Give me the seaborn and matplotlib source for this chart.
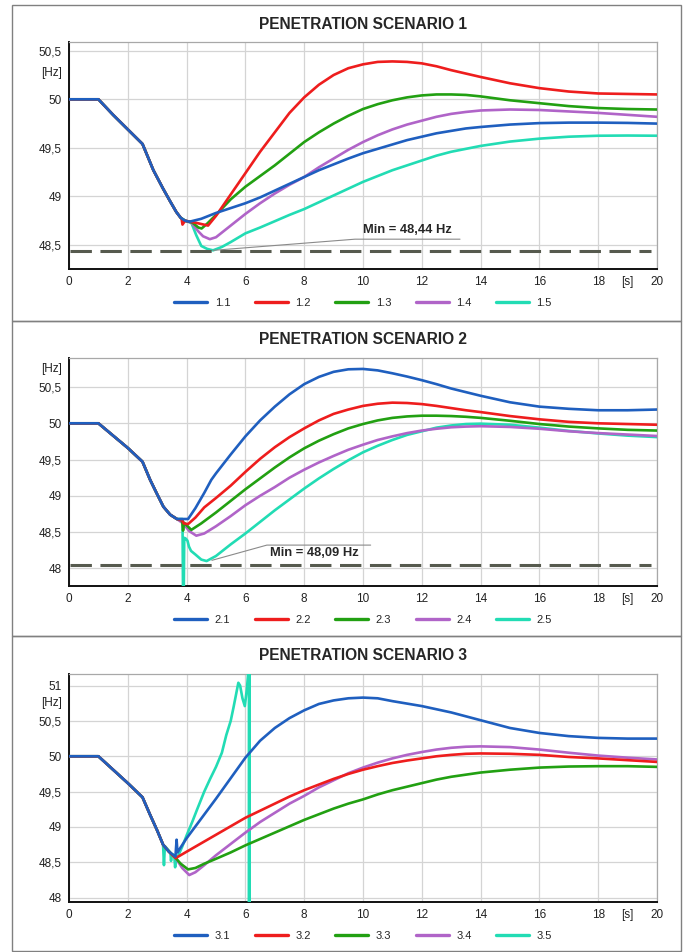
import matplotlib
matplotlib.use("Agg")
import matplotlib.pyplot as plt
import seaborn as sns
from matplotlib.patches import Rectangle
from matplotlib.ticker import MultipleLocator, FuncFormatter

# common time grid of the recovery part [s]
T_REC = [5.5, 6.0, 6.5, 7.0, 7.5, 8.0, 8.5, 9.0, 9.5, 10.0, 10.5, 11.0, 11.5,
         12.0, 12.5, 13.0, 13.5, 14.0, 15.0, 16.0, 17.0, 18.0, 19.0, 20.0]

COLORS = ["#1f5fbf", "#ee1d1d", "#22a012", "#b064c8", "#22dcb4"]

# ---------------- scenario 1
S1_LABELS = ["1.1", "1.2", "1.3", "1.4", "1.5"]
S1_START_T = [0, 1.0, 1.5, 2.0, 2.5, 2.87, 3.2, 3.44, 3.65, 3.8]
S1_START_F = [50, 50, 49.84, 49.69, 49.54, 49.27, 49.08, 48.95, 48.84, 48.78]
S1_DIP_T = [
    [3.95, 4.1, 4.5, 5.0],
    [3.83, 3.86, 3.95, 4.3, 4.73, 5.0],
    [3.95, 4.2, 4.4, 4.51, 4.7, 5.0],
    [3.95, 4.16, 4.4, 4.56, 4.79, 5.0],
    [3.95, 4.16, 4.33, 4.5, 4.7, 4.9, 5.2],
]
S1_DIP_F = [
    [48.75, 48.74, 48.77, 48.83],
    [48.77, 48.71, 48.75, 48.73, 48.70, 48.80],
    [48.75, 48.73, 48.68, 48.67, 48.72, 48.81],
    [48.75, 48.73, 48.64, 48.59, 48.56, 48.58],
    [48.75, 48.73, 48.60, 48.49, 48.46, 48.445, 48.48],
]
S1_REC_F = [
    [48.88, 48.93, 48.99, 49.06, 49.13, 49.20, 49.27, 49.33, 49.39, 49.445, 49.49, 49.535,
     49.58, 49.615, 49.65, 49.675, 49.70, 49.715, 49.74, 49.755, 49.76, 49.76, 49.757, 49.75],
    [49.02, 49.24, 49.46, 49.66, 49.86, 50.02, 50.15, 50.25, 50.32, 50.36, 50.385, 50.39,
     50.385, 50.37, 50.34, 50.30, 50.265, 50.23, 50.165, 50.115, 50.08, 50.06, 50.055, 50.05],
    [48.97, 49.10, 49.21, 49.32, 49.44, 49.56, 49.66, 49.75, 49.83, 49.90, 49.95, 49.99,
     50.02, 50.04, 50.05, 50.05, 50.045, 50.03, 49.99, 49.96, 49.93, 49.91, 49.90, 49.895],
    [48.70, 48.82, 48.93, 49.03, 49.12, 49.20, 49.30, 49.39, 49.48, 49.56, 49.63, 49.69,
     49.74, 49.78, 49.82, 49.85, 49.87, 49.885, 49.895, 49.89, 49.875, 49.86, 49.84, 49.82],
    [48.53, 48.62, 48.68, 48.745, 48.81, 48.87, 48.94, 49.01, 49.08, 49.15, 49.21, 49.27,
     49.32, 49.37, 49.42, 49.46, 49.49, 49.52, 49.565, 49.595, 49.615, 49.625, 49.627, 49.625],
]
S1_MIN = 48.44
S1_NOTE_T = [4.9, 9.73, 13.3]
S1_NOTE_F = [48.445, 48.56, 48.56]
S1_NOTE_XY = (11.5, 48.65)

# ---------------- scenario 2
S2_LABELS = ["2.1", "2.2", "2.3", "2.4", "2.5"]
S2_START_T = [0, 1.0, 1.5, 2.0, 2.5, 2.76, 3.0, 3.21, 3.44, 3.67]
S2_START_F = [50, 50, 49.83, 49.66, 49.47, 49.22, 49.02, 48.85, 48.74, 48.68]
S2_DIP_T = [
    [3.85, 4.05, 4.3, 4.6, 4.84, 5.0],
    [3.85, 3.9, 4.05, 4.3, 4.6, 5.0],
    [3.85, 3.88, 3.91, 4.16, 4.5, 5.0],
    [3.88, 4.1, 4.33, 4.6, 5.0],
    [3.86, 3.89, 3.92, 3.97, 4.03, 4.08, 4.15, 4.3, 4.5, 4.68, 5.0],
]
S2_DIP_F = [
    [48.68, 48.68, 48.83, 49.04, 49.22, 49.31],
    [48.66, 48.62, 48.61, 48.70, 48.84, 48.97],
    [48.66, 48.52, 48.63, 48.53, 48.62, 48.77],
    [48.62, 48.51, 48.45, 48.48, 48.58],
    [48.68, 47.0, 48.42, 48.41, 48.38, 48.30, 48.24, 48.19, 48.12, 48.10, 48.17],
]
S2_REC_F = [
    [49.57, 49.82, 50.04, 50.23, 50.40, 50.54, 50.64, 50.71, 50.745, 50.75, 50.73, 50.69,
     50.645, 50.595, 50.54, 50.48, 50.43, 50.38, 50.29, 50.23, 50.20, 50.18, 50.18, 50.19],
    [49.14, 49.33, 49.51, 49.67, 49.81, 49.93, 50.04, 50.13, 50.19, 50.24, 50.27, 50.285,
     50.28, 50.265, 50.24, 50.21, 50.18, 50.155, 50.10, 50.055, 50.02, 50.0, 49.99, 49.98],
    [48.93, 49.09, 49.24, 49.39, 49.53, 49.655, 49.76, 49.85, 49.93, 49.99, 50.04, 50.075,
     50.095, 50.105, 50.105, 50.10, 50.09, 50.075, 50.035, 49.99, 49.955, 49.93, 49.91, 49.90],
    [48.72, 48.87, 49.0, 49.12, 49.25, 49.36, 49.46, 49.55, 49.635, 49.705, 49.77, 49.82,
     49.865, 49.90, 49.925, 49.945, 49.955, 49.96, 49.95, 49.925, 49.89, 49.865, 49.845, 49.825],
    [48.33, 48.48, 48.64, 48.80, 48.95, 49.10, 49.24, 49.37, 49.49, 49.60, 49.69, 49.77,
     49.84, 49.89, 49.94, 49.97, 49.99, 49.995, 49.98, 49.94, 49.895, 49.86, 49.83, 49.81],
]
S2_MIN = 48.05
S2_NOTE_T = [4.86, 6.73, 10.26]
S2_NOTE_F = [48.11, 48.32, 48.32]
S2_NOTE_XY = (8.34, 48.21)

# ---------------- scenario 3
S3_LABELS = ["3.1", "3.2", "3.3", "3.4", "3.5"]
S3_START_T = [0, 1.0, 1.5, 2.0, 2.5, 2.75, 3.0, 3.2]
S3_START_F = [50, 50, 49.81, 49.62, 49.42, 49.18, 48.95, 48.75]
S3_DIP_T = [
    [3.4, 3.62, 3.66, 3.69, 3.78, 4.0, 4.5, 5.0],
    [3.4, 3.63, 4.0, 4.5, 5.0],
    [3.4, 3.63, 3.8, 4.05, 4.3, 4.6, 5.0],
    [3.4, 3.63, 3.85, 4.09, 4.3, 4.6, 5.0],
]
S3_DIP_F = [
    [48.65, 48.58, 48.82, 48.64, 48.70, 48.84, 49.12, 49.40],
    [48.65, 48.56, 48.65, 48.77, 48.89],
    [48.65, 48.56, 48.48, 48.40, 48.42, 48.48, 48.55],
    [48.65, 48.56, 48.42, 48.32, 48.36, 48.46, 48.60],
]
S3_REC_F = [
    [49.69, 49.98, 50.22, 50.40, 50.54, 50.65, 50.74, 50.79, 50.82, 50.83, 50.82, 50.78,
     50.745, 50.71, 50.665, 50.62, 50.565, 50.51, 50.40, 50.33, 50.285, 50.26, 50.25, 50.25],
    [49.01, 49.13, 49.23, 49.33, 49.43, 49.52, 49.60, 49.68, 49.75, 49.81, 49.86, 49.905,
     49.94, 49.97, 50.0, 50.02, 50.035, 50.04, 50.035, 50.02, 49.99, 49.97, 49.945, 49.92],
    [48.64, 48.74, 48.83, 48.92, 49.01, 49.10, 49.18, 49.26, 49.33, 49.39, 49.46, 49.52,
     49.57, 49.62, 49.67, 49.71, 49.74, 49.77, 49.81, 49.84, 49.855, 49.86, 49.86, 49.85],
    [48.76, 48.92, 49.07, 49.20, 49.33, 49.44, 49.56, 49.66, 49.76, 49.84, 49.91, 49.97,
     50.02, 50.06, 50.095, 50.12, 50.135, 50.14, 50.13, 50.095, 50.05, 50.01, 49.98, 49.955],
]
# 3.5 loses stability, no recovery part
S3_UNSTABLE_T = [3.23, 3.26, 3.45, 3.47, 3.5, 3.58, 3.61, 3.64, 3.72, 3.85, 4.0, 4.2,
                 4.35, 4.6, 4.8, 5.0, 5.2, 5.35, 5.5, 5.6, 5.76, 5.82, 5.9, 5.98, 6.05,
                 6.1, 6.12, 6.125, 6.135, 6.14]
S3_UNSTABLE_F = [48.46, 48.73, 48.64, 48.52, 48.62, 48.60, 48.43, 48.58, 48.60, 48.72,
                 48.88, 49.08, 49.24, 49.50, 49.68, 49.85, 50.05, 50.30, 50.50, 50.70,
                 51.04, 51.0, 50.82, 50.71, 50.95, 51.2, 52.0, 47.0, 52.0, 47.0]

W, H = 685, 952


def comma(v, pos):
    return ("%g" % v).replace(".", ",")


def draw_panel(ax, title, labels, curves, ylim, yticks, hz_y):
    for i, (t, f) in enumerate(curves):
        sns.lineplot(x=t, y=f, ax=ax, color=COLORS[i], lw=1.9, label=labels[i],
                     estimator=None, sort=False, zorder=10 - i)

    ax.set_xlim(0, 20)
    ax.set_ylim(*ylim)
    ax.set_xticks(range(0, 21, 2))
    ax.set_yticks(yticks)
    ax.xaxis.set_minor_locator(MultipleLocator(1))
    ax.yaxis.set_minor_locator(MultipleLocator(0.1))
    ax.xaxis.set_major_formatter(FuncFormatter(comma))
    ax.yaxis.set_major_formatter(FuncFormatter(comma))
    ax.tick_params(which="major", length=0, labelsize=8.5, pad=5, labelcolor="#222222")
    ax.tick_params(which="minor", direction="in", length=3, width=0.8, color="#a8a8a8")
    ax.grid(True, which="major", color="#d4d4d4", lw=0.9)
    ax.set_axisbelow(True)
    ax.set_xlabel("")
    ax.set_ylabel("")
    for s in ["top", "right"]:
        ax.spines[s].set_color("#a8a8a8")
        ax.spines[s].set_linewidth(0.9)
    for s in ["left", "bottom"]:
        ax.spines[s].set_color("#111111")
        ax.spines[s].set_linewidth(1.4)

    ax.annotate("[Hz]", xy=(0, hz_y), xycoords=("axes fraction", "data"),
                xytext=(-5, 0), textcoords="offset points", ha="right", va="center",
                fontsize=8.5, color="#222222")
    ax.annotate("[s]", xy=(19, 0), xycoords=("data", "axes fraction"),
                xytext=(0, -5), textcoords="offset points", ha="center", va="top",
                fontsize=8.5, color="#222222")

    ax.text(0.5, 1 + 18 / 228, title, transform=ax.transAxes, ha="center", va="center",
            fontsize=11.2, fontweight="bold")

    leg = ax.legend(loc="center", bbox_to_anchor=(0.5, -34 / 228), ncol=5, frameon=False,
                    fontsize=8, handlelength=3.0, handletextpad=0.65, columnspacing=2.2)
    for line in leg.get_lines():
        line.set_linewidth(2.4)


def note(ax, ymin, nt, nf, xy, text):
    ax.hlines(ymin, 0.05, 19.8, colors="#565a4e", lw=2.2, linestyles=(0, (7, 2.8)),
              zorder=12)
    ax.plot(nt, nf, color="#8a8a8a", lw=0.8, zorder=13)
    ax.text(xy[0], xy[1], text, ha="center", va="center", fontsize=9.3,
            fontweight="bold", zorder=14)


sns.set_theme(style="white")
plt.rcParams["font.family"] = ["Liberation Sans", "DejaVu Sans"]

fig = plt.figure(figsize=(W / 100, H / 100), dpi=100)

# frames of the three panels
for top, bottom in [(4.7, 320.7), (320.7, 636), (636, 950.7)]:
    fig.add_artist(Rectangle((11.7 / W, 1 - bottom / H), (680.7 - 11.7) / W, (bottom - top) / H,
                             transform=fig.transFigure, fill=False, ec="#808080", lw=1.0))

left, width = 69 / W, (657 - 69) / W
ax1 = fig.add_axes([left, 1 - 269 / H, width, 227 / H])
ax2 = fig.add_axes([left, 1 - 585.7 / H, width, 228 / H])
ax3 = fig.add_axes([left, 1 - 901.7 / H, width, 228 / H])

c1 = [(S1_START_T + S1_DIP_T[i] + T_REC, S1_START_F + S1_DIP_F[i] + S1_REC_F[i]) for i in range(5)]
draw_panel(ax1, "PENETRATION SCENARIO 1", S1_LABELS, c1, (48.253, 50.59),
           [48.5, 49, 49.5, 50, 50.5], 50.27)
note(ax1, S1_MIN, S1_NOTE_T, S1_NOTE_F, S1_NOTE_XY, "Min = 48,44 Hz")

c2 = [(S2_START_T + S2_DIP_T[i] + T_REC, S2_START_F + S2_DIP_F[i] + S2_REC_F[i]) for i in range(5)]
draw_panel(ax2, "PENETRATION SCENARIO 2", S2_LABELS, c2, (47.76, 50.905),
           [48, 48.5, 49, 49.5, 50, 50.5], 50.75)
note(ax2, S2_MIN, S2_NOTE_T, S2_NOTE_F, S2_NOTE_XY, "Min = 48,09 Hz")

c3 = [(S3_START_T + S3_DIP_T[i] + T_REC, S3_START_F + S3_DIP_F[i] + S3_REC_F[i]) for i in range(4)]
c3.append((S3_START_T + S3_UNSTABLE_T, S3_START_F + S3_UNSTABLE_F))
draw_panel(ax3, "PENETRATION SCENARIO 3", S3_LABELS, c3, (47.943, 51.168),
           [48, 48.5, 49, 49.5, 50, 50.5, 51], 50.75)

fig.savefig("out.png", dpi=100)
